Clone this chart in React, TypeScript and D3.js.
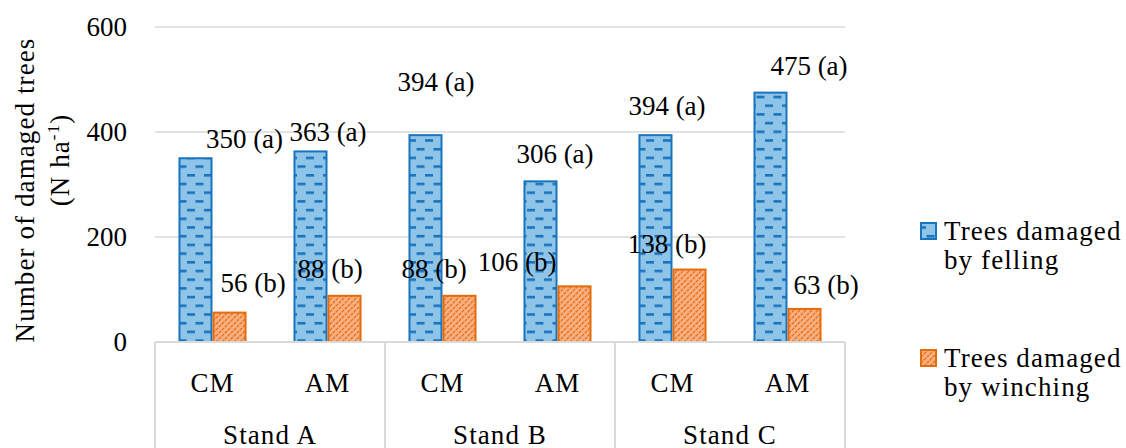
import React from "react";
import * as d3 from "d3";

// Chart values
const stands = ["Stand A", "Stand B", "Stand C"];
const methods = ["CM", "AM"];
const seriesNames = ["Trees damaged by felling", "Trees damaged by winching"];
const felling = [350, 363, 394, 306, 394, 475];
const fellingGroups = ["a", "a", "a", "a", "a", "a"];
const winching = [56, 88, 88, 106, 138, 63];
const winchingGroups = ["b", "b", "b", "b", "b", "b"];
const yTicks = [0, 200, 400, 600];

// Hand-placed label nudges relative to each bar's top centre (dx, dy)
const fellingLabelNudge = [
  [49, -10],
  [17.5, -10],
  [10.5, -44],
  [14.5, -18],
  [11.5, -20],
  [38.5, -18],
];
const winchingLabelNudge = [
  [23.5, -20.6],
  [-14.5, -18],
  [-25.5, -18],
  [-57.5, -15],
  [-22.5, -16.5],
  [21.5, -15],
];

const W = 1126;
const H = 448;
const plotLeft = 155;
const plotRight = 845;
const plotTop = 27;
const plotBottom = 342;
const FONT = "'Liberation Serif', 'DejaVu Serif', serif";
const FS = 27;
const LS = 1.1; // extra tracking for word labels

const BLUE_FILL = "#8fc4e9";
const BLUE_LINE = "#1874be";
const ORANGE_FILL = "#f9b182";
const ORANGE_LINE = "#e46c0a";
const GRID = "#d9d9d9";

export default function App() {
  const x0 = d3.scaleBand<string>().domain(stands).range([plotLeft, plotRight]);
  const x1 = d3.scaleBand<string>().domain(methods).range([0, x0.bandwidth()]);
  const x2 = d3
    .scaleBand<string>()
    .domain(seriesNames)
    .range([0, x1.bandwidth()])
    .paddingInner(0)
    .paddingOuter(0.69);
  const y = d3.scaleLinear().domain([0, 600]).range([plotBottom, plotTop]);

  const cells = stands.flatMap((s, si) =>
    methods.map((m, mi) => ({ s, m, i: si * methods.length + mi }))
  );

  const seriesDefs = [
    {
      name: seriesNames[0],
      values: felling,
      groups: fellingGroups,
      nudge: fellingLabelNudge,
      fill: "url(#dashHorz)",
      stroke: BLUE_LINE,
    },
    {
      name: seriesNames[1],
      values: winching,
      groups: winchingGroups,
      nudge: winchingLabelNudge,
      fill: "url(#diagUp)",
      stroke: ORANGE_LINE,
    },
  ];

  const boundaries = [...stands.map((s) => x0(s)!), plotRight];

  return (
    <div style={{ position: "fixed", left: 0, top: 0 }}>
      <svg width={W} height={H} style={{ display: "block", background: "#fff" }}>
        <defs>
          <pattern id="dashHorz" patternUnits="userSpaceOnUse" width={17} height={17.4}>
            <rect width={17} height={17.4} fill={BLUE_FILL} />
            <rect x={0} y={0} width={8} height={2.6} fill={BLUE_LINE} />
            <rect x={8.5} y={8.7} width={8} height={2.6} fill={BLUE_LINE} />
          </pattern>
          <pattern id="diagUp" patternUnits="userSpaceOnUse" width={6} height={6}>
            <rect width={6} height={6} fill={ORANGE_FILL} />
            <path
              d="M-1.5,1.5 L1.5,-1.5 M0,6 L6,0 M4.5,7.5 L7.5,4.5"
              stroke="#ea6f1c"
              strokeWidth={1.4}
              strokeDasharray="3 1"
            />
          </pattern>
        </defs>

        {/* gridlines */}
        {yTicks.map((t) => (
          <line
            key={t}
            x1={plotLeft}
            x2={plotRight}
            y1={y(t)}
            y2={y(t)}
            stroke={GRID}
            strokeWidth={1.5}
          />
        ))}

        {/* y tick labels */}
        {yTicks.map((t) => (
          <text
            key={"t" + t}
            x={127}
            y={y(t) + 9}
            textAnchor="end"
            fontFamily={FONT}
            fontSize={FS}
            fill="#000"
          >
            {t}
          </text>
        ))}

        {/* y axis title */}
        <text
          transform={`translate(34,190) rotate(-90)`}
          textAnchor="middle"
          fontFamily={FONT}
          fontSize={FS}
          letterSpacing={LS}
          fill="#000"
        >
          Number of damaged trees
        </text>
        <text
          transform={`translate(69,160) rotate(-90)`}
          textAnchor="middle"
          fontFamily={FONT}
          fontSize={FS}
          letterSpacing={LS}
          fill="#000"
        >
          (N ha
          <tspan fontSize={17} dy={-10}>
            -1
          </tspan>
          <tspan dy={10}>)</tspan>
        </text>

        {/* bars */}
        {seriesDefs.map((sd) =>
          cells.map((c) => {
            const bx = x0(c.s)! + x1(c.m)! + x2(sd.name)!;
            const v = sd.values[c.i];
            return (
              <rect
                key={sd.name + c.i}
                x={bx + 1}
                y={y(v)}
                width={x2.bandwidth() - 2}
                height={y(0) - y(v)}
                fill={sd.fill}
                stroke={sd.stroke}
                strokeWidth={2}
              />
            );
          })
        )}

        {/* category axis */}
        <line x1={plotLeft} x2={plotRight} y1={plotBottom} y2={plotBottom} stroke={GRID} strokeWidth={2} />
        {boundaries.map((bx, i) => (
          <line key={"b" + i} x1={bx} x2={bx} y1={plotBottom} y2={H} stroke={GRID} strokeWidth={2} />
        ))}
        {cells.map((c) => (
          <text
            key={"m" + c.i}
            x={x0(c.s)! + x1(c.m)! + x1.bandwidth() / 2}
            y={392}
            textAnchor="middle"
            fontFamily={FONT}
            fontSize={FS}
            letterSpacing={LS}
            fill="#000"
          >
            {c.m}
          </text>
        ))}
        {stands.map((s) => (
          <text
            key={s}
            x={x0(s)! + x0.bandwidth() / 2}
            y={444}
            textAnchor="middle"
            fontFamily={FONT}
            fontSize={FS}
            letterSpacing={LS}
            fill="#000"
          >
            {s}
          </text>
        ))}

        {/* value labels */}
        {seriesDefs.map((sd) =>
          cells.map((c) => {
            const cx = x0(c.s)! + x1(c.m)! + x2(sd.name)! + x2.bandwidth() / 2;
            const v = sd.values[c.i];
            const [dx, dy] = sd.nudge[c.i];
            return (
              <text
                key={"l" + sd.name + c.i}
                x={cx + dx}
                y={y(v) + dy}
                textAnchor="middle"
                fontFamily={FONT}
                fontSize={FS}
                fill="#000"
              >
                {`${v} (${sd.groups[c.i]})`}
              </text>
            );
          })
        )}

        {/* legend */}
        {[
          { fill: "url(#dashHorz)", stroke: BLUE_LINE, lines: ["Trees damaged", "by felling"], top: 223 },
          { fill: "url(#diagUp)", stroke: ORANGE_LINE, lines: ["Trees damaged", "by winching"], top: 350 },
        ].map((lg, i) => (
          <g key={"lg" + i}>
            <rect x={921} y={lg.top} width={15} height={16} fill={lg.fill} stroke={lg.stroke} strokeWidth={2} />
            <text x={944} y={lg.top + 17} fontFamily={FONT} fontSize={FS} letterSpacing={LS} fill="#000">
              {lg.lines[0]}
            </text>
            <text x={944} y={lg.top + 46} fontFamily={FONT} fontSize={FS} letterSpacing={LS} fill="#000">
              {lg.lines[1]}
            </text>
          </g>
        ))}
      </svg>
    </div>
  );
}
